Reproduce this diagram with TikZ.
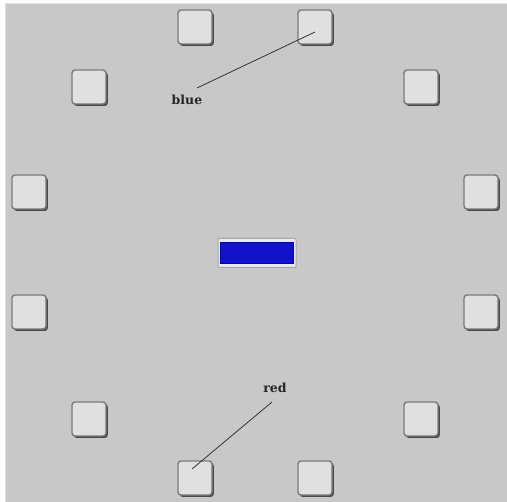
\documentclass[tikz,border=0pt]{standalone}
\usepackage{fontspec}
\setmainfont{DejaVu Serif}
\usetikzlibrary{shadows}
\definecolor{bg}{HTML}{C8C8C8}
\definecolor{btnfill}{HTML}{E0E0E0}
\definecolor{btnedge}{HTML}{7A7A7A}
\definecolor{btnshadow}{HTML}{4A4A4A}
\definecolor{bluebar}{HTML}{1212C8}
\definecolor{frame}{HTML}{A6A6A6}
\begin{document}
\begin{tikzpicture}[x=1pt,y=-1pt,
  btn/.style={minimum width=34pt,minimum height=34pt,inner sep=0pt,
    rounded corners=3pt,fill=btnfill,draw=btnedge,line width=1.4pt,
    drop shadow={shadow xshift=1.8pt,shadow yshift=-2pt,fill=btnshadow,opacity=1}},
  lbl/.style={font=\bfseries\fontsize{12.5}{14}\selectfont,text=black!85,inner sep=0pt},
  conn/.style={draw=black!80,line width=0.8pt}]
\useasboundingbox (0,0) rectangle (507,502);
\fill[white] (0,0) rectangle (507,502);
\fill[black!12] (4.5,3) rectangle (507,502);
\fill[bg] (6,4) rectangle (507,502);
% buttons
\node[btn] (t1) at (195,27) {};
\node[btn] (t2) at (315,27) {};
\node[btn] (u1) at (89,87) {};
\node[btn] (u2) at (421,87) {};
\node[btn] (m1) at (29,192) {};
\node[btn] (m2) at (481,192) {};
\node[btn] (n1) at (29,312) {};
\node[btn] (n2) at (481,312) {};
\node[btn] (l1) at (89,419) {};
\node[btn] (l2) at (421,419) {};
\node[btn] (b1) at (195,478) {};
\node[btn] (b2) at (315,478) {};
% centre bar
\node[minimum width=78pt,minimum height=29pt,inner sep=0pt,fill=white!92!black,draw=frame,line width=1pt,rounded corners=1pt] (frm) at (257,253) {};
\node[minimum width=73pt,minimum height=21pt,inner sep=0pt,fill=bluebar,draw=blue!80!black,line width=0.6pt] (bar) at (257,253) {};
% labels
\node[lbl] (blue) at (187,100) {blue};
\node[lbl] (red) at (275,388) {red};
\coordinate (bend) at (315,32);
\coordinate (bstart) at (197,88);
\coordinate (rstart) at (272,402);
\coordinate (rend) at (192,469);
\draw[conn] (bstart) -- (bend);
\draw[conn] (rstart) -- (rend);
\end{tikzpicture}
\end{document}
